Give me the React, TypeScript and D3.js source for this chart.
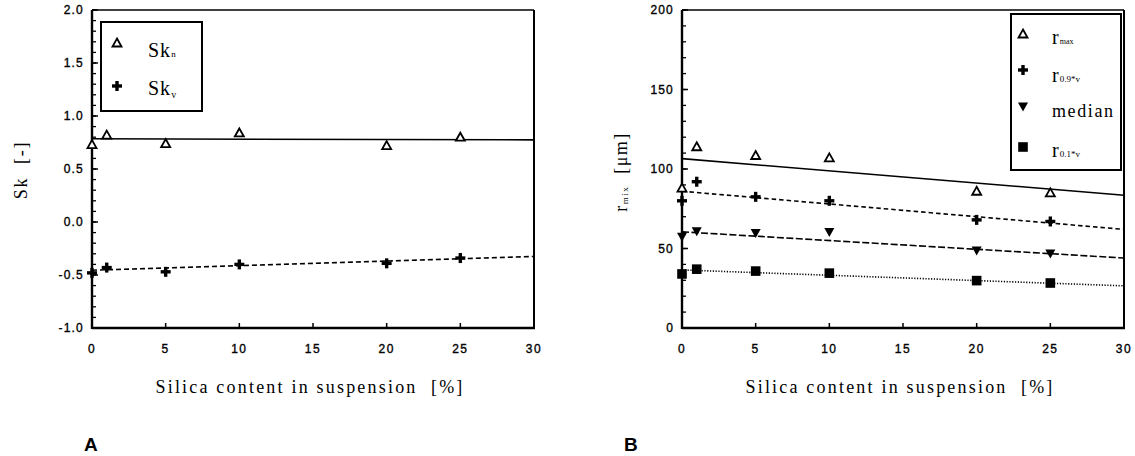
import React from "react";
import * as d3 from "d3";

// ---------- data ----------
const silica = [0, 1, 5, 10, 20, 25];
const xTicks = [0, 5, 10, 15, 20, 25, 30];

// Panel A
const skN = [0.73, 0.82, 0.74, 0.84, 0.72, 0.8];
const skV = [-0.48, -0.43, -0.47, -0.4, -0.39, -0.34];
const fitX = [0, 30];
const skNFit = [0.785, 0.775];
const skVFit = [-0.455, -0.325];
const yTicksA = [-1.0, -0.5, 0.0, 0.5, 1.0, 1.5, 2.0];

// Panel B
const rMax = [88, 114, 108.5, 107, 86, 85];
const r09v = [80, 92, 82.5, 80, 68, 67];
const median = [57, 60.5, 59.5, 60, 48.5, 46.5];
const r01v = [34, 37, 35.8, 34.5, 29.8, 28.3];
const rMaxFit = [106.5, 83.5];
const r09vFit = [86, 62];
const medianFit = [60.5, 44];
const r01vFit = [36.5, 26.5];
const yTicksB = [0, 50, 100, 150, 200];

const SERIF = "'Liberation Serif', 'DejaVu Serif', serif";
const SANS = "'Liberation Sans', Arial, sans-serif";

type Marker = "tri" | "plus" | "dtri" | "square";

function MarkerShape({ type, x, y }: { type: Marker; x: number; y: number }) {
  if (type === "tri") {
    return (
      <path
        d={`M${x},${y - 4.5} L${x + 4.5},${y + 3.5} L${x - 4.5},${y + 3.5} Z`}
        fill="#fff"
        stroke="#000"
        strokeWidth={1.8}
        strokeLinejoin="miter"
      />
    );
  }
  if (type === "plus") {
    return (
      <g stroke="#000" strokeWidth={3.4}>
        <line x1={x - 5} x2={x + 5} y1={y} y2={y} />
        <line x1={x} x2={x} y1={y - 5} y2={y + 5} />
      </g>
    );
  }
  if (type === "dtri") {
    return <path d={`M${x - 5},${y - 4.5} L${x + 5},${y - 4.5} L${x},${y + 4.5} Z`} fill="#000" />;
  }
  return <rect x={x - 4.8} y={y - 4.8} width={9.6} height={9.6} fill="#000" />;
}

interface Series {
  values: number[];
  fit: number[];
  marker: Marker;
  dash: string | null;
}

interface PanelProps {
  left: number;
  right: number;
  top: number;
  bottom: number;
  yDomain: [number, number];
  yTicks: number[];
  minorStep: number;
  yFmt: (v: number) => string;
  series: Series[];
}

function Panel({ left, right, top, bottom, yDomain, yTicks, minorStep, yFmt, series }: PanelProps) {
  const x = d3.scaleLinear().domain([0, 30]).range([left, right]);
  const y = d3.scaleLinear().domain(yDomain).range([bottom, top]);
  const minor = d3.range(yDomain[0], yDomain[1] + minorStep / 2, minorStep);
  const line = d3
    .line<number>()
    .x((_, i) => x(fitX[i]))
    .y((d) => y(d));
  return (
    <g>
      {series.map((s, i) => (
        <path
          key={"f" + i}
          d={line(s.fit) || ""}
          fill="none"
          stroke="#000"
          strokeWidth={1.6}
          strokeDasharray={s.dash || undefined}
        />
      ))}
      {minor.map((v, i) => (
        <line key={"m" + i} x1={left} x2={left + 4} y1={y(v)} y2={y(v)} stroke="#000" strokeWidth={1.3} />
      ))}
      {yTicks.map((v, i) => (
        <g key={"y" + i}>
          <line x1={left} x2={left + 6} y1={y(v)} y2={y(v)} stroke="#000" strokeWidth={1.5} />
          <text
            x={left - 8}
            y={y(v) + 4}
            textAnchor="end"
            fontFamily={SANS}
            fontSize={12}
            letterSpacing={1.2}
            stroke="#000"
            strokeWidth={0.35}
          >
            {yFmt(v)}
          </text>
        </g>
      ))}
      {xTicks.map((v, i) => (
        <g key={"x" + i}>
          <line x1={x(v)} x2={x(v)} y1={bottom} y2={bottom - 5} stroke="#000" strokeWidth={1.5} />
          <text
            x={x(v)}
            y={bottom + 25}
            textAnchor="middle"
            fontFamily={SANS}
            fontSize={12}
            letterSpacing={1.5}
            stroke="#000"
            strokeWidth={0.35}
          >
            {v}
          </text>
        </g>
      ))}
      <line x1={left} x2={right} y1={top} y2={top} stroke="#000" strokeWidth={1.5} />
      <line x1={right} x2={right} y1={top} y2={bottom} stroke="#000" strokeWidth={2} />
      <line x1={left} x2={left} y1={top} y2={bottom + 1} stroke="#000" strokeWidth={2.4} />
      <line x1={left} x2={right + 1} y1={bottom} y2={bottom} stroke="#000" strokeWidth={2.4} />
      {series.map((s, i) => (
        <g key={"s" + i}>
          {s.values.map((v, j) => (
            <MarkerShape key={j} type={s.marker} x={x(silica[j])} y={y(v)} />
          ))}
        </g>
      ))}
      <text
        x={(left + right) / 2 - 3}
        y={393}
        textAnchor="middle"
        fontFamily={SERIF}
        fontSize={18}
        letterSpacing={2.2}
      >
        {"Silica content in suspension\u00a0\u00a0[%]"}
      </text>
    </g>
  );
}

export default function App() {
  const seriesA: Series[] = [
    { values: skN, fit: skNFit, marker: "tri", dash: null },
    { values: skV, fit: skVFit, marker: "plus", dash: "5,3" },
  ];
  const seriesB: Series[] = [
    { values: rMax, fit: rMaxFit, marker: "tri", dash: null },
    { values: r09v, fit: r09vFit, marker: "plus", dash: "4.5,3" },
    { values: median, fit: medianFit, marker: "dtri", dash: "7,2.5" },
    { values: r01v, fit: r01vFit, marker: "square", dash: "1.2,1.6" },
  ];
  const fmtA = (v: number) => d3.format(".1f")(v).replace("\u2212", "-");
  return (
    <svg
      width={1135}
      height={456}
      style={{ position: "absolute", left: 0, top: 0, background: "#fff" }}
    >
      <rect width={1135} height={456} fill="#fff" />
      <Panel
        left={92}
        right={534}
        top={10}
        bottom={328}
        yDomain={[-1, 2]}
        yTicks={yTicksA}
        minorStep={0.1}
        yFmt={fmtA}
        series={seriesA}
      />
      <Panel
        left={682}
        right={1124}
        top={10}
        bottom={328}
        yDomain={[0, 200]}
        yTicks={yTicksB}
        minorStep={10}
        yFmt={(v) => String(v)}
        series={seriesB}
      />

      <text
        transform="translate(27,170) rotate(-90)"
        textAnchor="middle"
        fontFamily={SERIF}
        fontSize={18}
        letterSpacing={1.8}
      >
        {"Sk\u00a0\u00a0[-]"}
      </text>
      <text
        transform="translate(627,172) rotate(-90)"
        textAnchor="middle"
        fontFamily={SERIF}
        fontSize={18}
        letterSpacing={1.5}
      >
        r<tspan fontSize={9} dy={1}>mix</tspan>
        <tspan dy={-1}>{"\u00a0\u00a0[μm]"}</tspan>
      </text>

      {/* Legend A */}
      <rect x={101} y={22} width={101} height={89} fill="#fff" stroke="#000" strokeWidth={2} />
      <MarkerShape type="tri" x={117} y={43} />
      <text x={148} y={57} fontFamily={SERIF} fontSize={20} letterSpacing={1}>
        Sk<tspan fontSize={9}>n</tspan>
      </text>
      <MarkerShape type="plus" x={117} y={86} />
      <text x={148} y={95} fontFamily={SERIF} fontSize={20} letterSpacing={1}>
        Sk<tspan fontSize={10} dy={3}>v</tspan>
      </text>

      {/* Legend B */}
      <rect x={1011} y={14} width={110} height={156} fill="#fff" stroke="#000" strokeWidth={2} />
      <MarkerShape type="tri" x={1023} y={34} />
      <text x={1052} y={44} fontFamily={SERIF} fontSize={20}>
        r<tspan fontSize={8} dx={1}>max</tspan>
      </text>
      <MarkerShape type="plus" x={1023} y={70} />
      <text x={1052} y={82} fontFamily={SERIF} fontSize={20}>
        r<tspan fontSize={9} dx={1}>0.9*v</tspan>
      </text>
      <MarkerShape type="dtri" x={1023} y={107} />
      <text x={1052} y={117} fontFamily={SERIF} fontSize={18} letterSpacing={1.6}>
        median
      </text>
      <MarkerShape type="square" x={1023} y={147} />
      <text x={1052} y={157} fontFamily={SERIF} fontSize={20}>
        r<tspan fontSize={9} dx={1}>0.1*v</tspan>
      </text>

      <text x={84} y={451} fontFamily={SANS} fontWeight="bold" fontSize={19}>
        A
      </text>
      <text x={624} y={451} fontFamily={SANS} fontWeight="bold" fontSize={19}>
        B
      </text>
    </svg>
  );
}
